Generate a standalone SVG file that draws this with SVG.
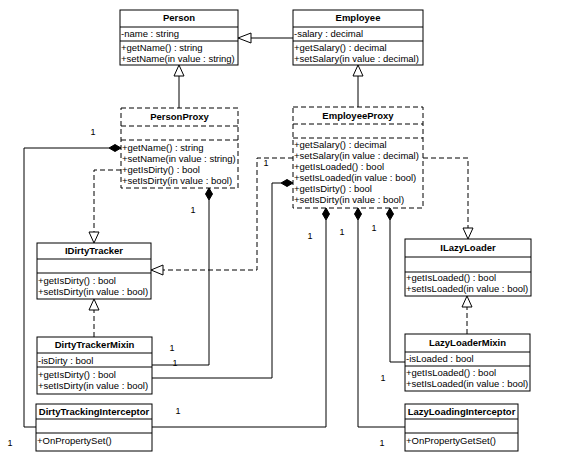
<svg xmlns="http://www.w3.org/2000/svg" width="576" height="457" viewBox="0 0 576 457">
<style>
.box{fill:#fff;stroke:#000;stroke-width:1}
.dbox{fill:#fff;stroke:#000;stroke-width:1;stroke-dasharray:5,3}
.sep{stroke:#000;stroke-width:1}
.dsep{stroke:#000;stroke-width:1;stroke-dasharray:5,3}
.t{font-family:"Liberation Sans",Arial,sans-serif;font-size:9.5px;fill:#000}
.b{font-family:"Liberation Sans",Arial,sans-serif;font-size:9.5px;font-weight:bold;fill:#000;text-anchor:middle}
.m{font-family:"Liberation Sans",Arial,sans-serif;font-size:9px;fill:#000;text-anchor:middle}
.ln{fill:none;stroke:#000;stroke-width:1}
.dl{fill:none;stroke:#000;stroke-width:1;stroke-dasharray:5,3}
.tri{fill:#fff;stroke:#000;stroke-width:1}
.dia{fill:#000;stroke:#000;stroke-width:1}
</style>
<rect width="576" height="457" fill="#fff"/>

<g id="connectors">
<!-- generalizations -->
<path class="ln" d="M293,38H251"/><path class="tri" d="M238,38L251,33V43Z"/>
<path class="ln" d="M179,108V76"/><path class="tri" d="M179,65L174,76H184Z"/>
<path class="ln" d="M358,107V76"/><path class="tri" d="M358,65L353,76H363Z"/>
<!-- realizations -->
<path class="dl" d="M121,170H94V232"/><path class="tri" d="M94,243L89,232H99Z"/>
<path class="dl" d="M293,158H257V270H163"/><path class="tri" d="M151,270L163,265V275Z"/>
<path class="dl" d="M423,158H468V228"/><path class="tri" d="M468,239L463,228H473Z"/>
<path class="dl" d="M94,337V310"/><path class="tri" d="M94,299L89,310H99Z"/>
<path class="dl" d="M467,334V307"/><path class="tri" d="M467,296L462,307H472Z"/>
<!-- compositions -->
<path class="ln" d="M109,148H24V427H36"/><path class="dia" d="M121,148L115,144.5L109,148L115,151.5Z"/>
<path class="ln" d="M209,200V365H152"/><path class="dia" d="M209,188L205.5,194L209,200L212.5,194Z"/>
<path class="ln" d="M281,183H272V378H152"/><path class="dia" d="M293,183L287,179.5L281,183L287,186.5Z"/>
<path class="ln" d="M326,220V427H152"/><path class="dia" d="M326,208L322.5,214L326,220L329.5,214Z"/>
<path class="ln" d="M358,220V427H405"/><path class="dia" d="M358,208L354.5,214L358,220L361.5,214Z"/>
<path class="ln" d="M390,220V362H405"/><path class="dia" d="M390,208L386.5,214L390,220L393.5,214Z"/>
<!-- multiplicities -->
<text class="m" x="93" y="135">1</text>
<text class="m" x="193" y="213">1</text>
<text class="m" x="266" y="166">1</text>
<text class="m" x="310" y="239">1</text>
<text class="m" x="342" y="235">1</text>
<text class="m" x="374" y="231">1</text>
<text class="m" x="172" y="351">1</text>
<text class="m" x="175" y="366">1</text>
<text class="m" x="178" y="414">1</text>
<text class="m" x="10" y="446">1</text>
<text class="m" x="382" y="446">1</text>
<text class="m" x="383" y="381">1</text>
</g>

<g id="Person">
<rect class="box" x="120" y="10" width="118" height="55"/>
<line class="sep" x1="120" y1="27" x2="238" y2="27"/>
<line class="sep" x1="120" y1="41" x2="238" y2="41"/>
<text class="b" x="179" y="20.5">Person</text>
<text class="t" x="121" y="36.5">-name : string</text>
<text class="t" x="121" y="50.5">+getName() : string</text>
<text class="t" x="121" y="61.5">+setName(in value : string)</text>
</g>

<g id="Employee">
<rect class="box" x="293" y="10" width="130" height="55"/>
<line class="sep" x1="293" y1="27" x2="423" y2="27"/>
<line class="sep" x1="293" y1="41" x2="423" y2="41"/>
<text class="b" x="358" y="20.5">Employee</text>
<text class="t" x="294" y="36.5">-salary : decimal</text>
<text class="t" x="294" y="50.5">+getSalary() : decimal</text>
<text class="t" x="294" y="61.5">+setSalary(in value : decimal)</text>
</g>

<g id="PersonProxy">
<rect class="dbox" x="121" y="108" width="117" height="80"/>
<line class="dsep" x1="121" y1="126" x2="238" y2="126"/>
<line class="dsep" x1="121" y1="140" x2="238" y2="140"/>
<text class="b" x="179.5" y="120">PersonProxy</text>
<text class="t" x="122" y="150.5">+getName() : string</text>
<text class="t" x="122" y="161.5">+setName(in value : string)</text>
<text class="t" x="122" y="172.5">+getIsDirty() : bool</text>
<text class="t" x="122" y="183.5">+setIsDirty(in value : bool)</text>
</g>

<g id="EmployeeProxy">
<rect class="dbox" x="293" y="107" width="130" height="101"/>
<line class="dsep" x1="293" y1="124" x2="423" y2="124"/>
<line class="dsep" x1="293" y1="138" x2="423" y2="138"/>
<text class="b" x="358" y="118.5">EmployeeProxy</text>
<text class="t" x="294" y="147.5">+getSalary() : decimal</text>
<text class="t" x="294" y="158.5">+setSalary(in value : decimal)</text>
<text class="t" x="294" y="169.5">+getIsLoaded() : bool</text>
<text class="t" x="294" y="180.5">+setIsLoaded(in value : bool)</text>
<text class="t" x="294" y="191.5">+getIsDirty() : bool</text>
<text class="t" x="294" y="202.5">+setIsDirty(in value : bool)</text>
</g>

<g id="IDirtyTracker">
<rect class="box" x="37" y="243" width="114" height="56"/>
<line class="sep" x1="37" y1="259" x2="151" y2="259"/>
<line class="sep" x1="37" y1="273" x2="151" y2="273"/>
<text class="b" x="94" y="254">IDirtyTracker</text>
<text class="t" x="38" y="283.5">+getIsDirty() : bool</text>
<text class="t" x="38" y="294.5">+setIsDirty(in value : bool)</text>
</g>

<g id="DirtyTrackerMixin">
<rect class="box" x="37" y="337" width="115" height="57"/>
<line class="sep" x1="37" y1="353" x2="152" y2="353"/>
<line class="sep" x1="37" y1="367" x2="152" y2="367"/>
<text class="b" x="94.5" y="347.5">DirtyTrackerMixin</text>
<text class="t" x="38" y="363.5">-isDirty : bool</text>
<text class="t" x="38" y="377.5">+getIsDirty() : bool</text>
<text class="t" x="38" y="388.5">+setIsDirty(in value : bool)</text>
</g>

<g id="DirtyTrackingInterceptor">
<rect class="box" x="36" y="404" width="116" height="47"/>
<line class="sep" x1="36" y1="419" x2="152" y2="419"/>
<line class="sep" x1="36" y1="433" x2="152" y2="433"/>
<text class="b" x="94" y="414.5">DirtyTrackingInterceptor</text>
<text class="t" x="37" y="443.5">+OnPropertySet()</text>
</g>

<g id="ILazyLoader">
<rect class="box" x="405" y="239" width="126" height="57"/>
<line class="sep" x1="405" y1="257" x2="531" y2="257"/>
<line class="sep" x1="405" y1="272" x2="531" y2="272"/>
<text class="b" x="468" y="250.5">ILazyLoader</text>
<text class="t" x="406" y="281">+getIsLoaded() : bool</text>
<text class="t" x="406" y="292">+setIsLoaded(in value : bool)</text>
</g>

<g id="LazyLoaderMixin">
<rect class="box" x="405" y="334" width="125" height="57"/>
<line class="sep" x1="405" y1="352" x2="530" y2="352"/>
<line class="sep" x1="405" y1="366" x2="530" y2="366"/>
<text class="b" x="467.5" y="345.5">LazyLoaderMixin</text>
<text class="t" x="406" y="362">-isLoaded : bool</text>
<text class="t" x="406" y="376">+getIsLoaded() : bool</text>
<text class="t" x="406" y="387">+setIsLoaded(in value : bool)</text>
</g>

<g id="LazyLoadingInterceptor">
<rect class="box" x="405" y="404" width="113" height="47"/>
<line class="sep" x1="405" y1="419" x2="518" y2="419"/>
<line class="sep" x1="405" y1="433" x2="518" y2="433"/>
<text class="b" x="461.5" y="414.5">LazyLoadingInterceptor</text>
<text class="t" x="406" y="443.5">+OnPropertyGetSet()</text>
</g>
</svg>
